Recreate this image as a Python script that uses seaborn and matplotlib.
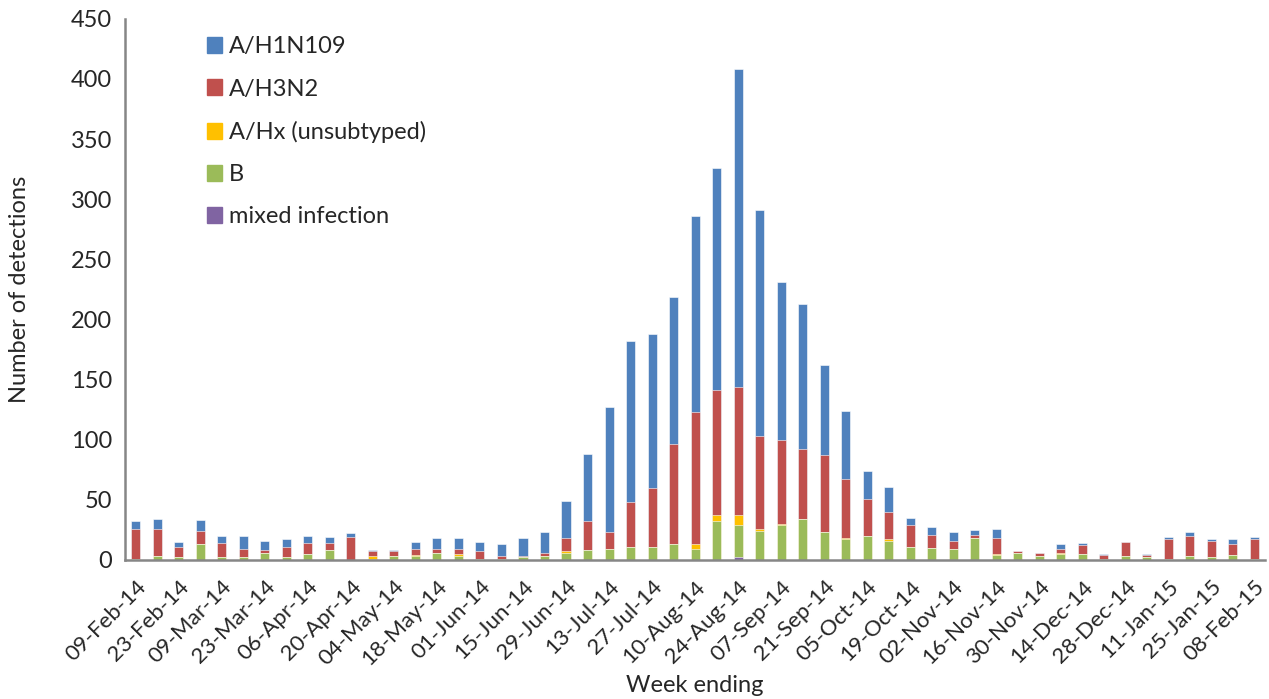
import pandas as pd
import numpy as np
import matplotlib
matplotlib.use("Agg")
import matplotlib.pyplot as plt
import seaborn as sns

# Semanas (final da semana)
weeks = pd.date_range("2014-02-09", "2015-02-08", freq="7D").strftime("%d-%b-%y").tolist()

# Contagens por tipo
h1n1 = [6, 8, 4, 9, 6, 11, 8, 6, 6, 5, 3, 1, 1, 6, 9, 9, 8, 10, 15, 17,
        31, 56, 104, 134, 128, 123, 163, 185, 264, 188, 131, 121, 75, 57, 23, 21,
        6, 6, 7, 4, 8, 0, 0, 4, 2, 1, 0, 1, 2, 3, 1, 4, 2]
h3n2 = [25, 23, 9, 11, 12, 7, 2, 9, 9, 6, 19, 4, 4, 5, 3, 4, 6, 2, 1, 3,
        11, 24, 14, 37, 49, 83, 110, 104, 107, 77, 70, 58, 64, 49, 31, 23,
        18, 11, 7, 3, 13, 1, 3, 3, 7, 3, 12, 2, 16, 17, 14, 9, 16]
hx = [0, 0, 0, 0, 0, 0, 0, 0, 0, 0, 0, 2, 0, 1, 0, 2, 0, 0, 0, 0,
      1, 0, 0, 0, 0, 0, 4, 5, 8, 2, 1, 0, 0, 1, 0, 1,
      0, 0, 0, 0, 1, 0, 0, 1, 0, 0, 0, 0, 0, 0, 0, 0, 0]
flu_b = [1, 3, 2, 13, 2, 2, 6, 2, 5, 8, 0, 1, 3, 3, 6, 3, 1, 1, 2, 3,
         6, 8, 9, 11, 11, 13, 9, 32, 27, 24, 29, 34, 23, 17, 20, 16,
         11, 10, 9, 18, 4, 6, 3, 5, 5, 1, 3, 2, 1, 3, 2, 4, 1]
mixed = [0] * 28 + [2] + [0] * 24

series_names = ["A/H1N109", "A/H3N2", "A/Hx (unsubtyped)", "B", "mixed infection"]
colors = ["#4F81BD", "#C0504D", "#FFC000", "#9BBB59", "#8064A2"]

df = pd.DataFrame({"Week": weeks, "mixed": mixed, "B": flu_b, "Hx": hx,
                   "H3N2": h3n2, "H1N1": h1n1})
# Somas acumuladas de baixo para cima
df["c_mixed"] = df["mixed"]
df["c_B"] = df["c_mixed"] + df["B"]
df["c_Hx"] = df["c_B"] + df["Hx"]
df["c_H3N2"] = df["c_Hx"] + df["H3N2"]
df["c_H1N1"] = df["c_H3N2"] + df["H1N1"]

sns.set_style("white")
plt.rcParams["font.family"] = ["Lato", "DejaVu Sans"]

fig = plt.figure(figsize=(12.69, 6.99), dpi=100)
ax = fig.add_axes([0.0985, 0.199, 0.8985, 0.774])

layers = ["c_H1N1", "c_H3N2", "c_Hx", "c_B", "c_mixed"]
for col, color in zip(layers, colors):
    sns.barplot(data=df, x="Week", y=col, order=weeks, color=color, width=0.42,
                edgecolor="white", linewidth=0.4, saturation=1, ax=ax)

ax.set_xlim(-0.5, len(weeks) - 0.5)
ax.set_ylim(0, 450)
ax.set_yticks(np.arange(0, 451, 50))

ax.set_xticks(range(0, len(weeks), 2))
ax.set_xticklabels(weeks[::2], rotation=45, ha="right", rotation_mode="anchor")
ax.set_xticks(np.arange(-0.5, len(weeks), 1), minor=True)
ax.tick_params(axis="x", which="major", length=0, pad=12, labelsize=16)
ax.tick_params(axis="x", which="minor", length=6, width=1.5, color="#868686", direction="out")
ax.tick_params(axis="y", length=6, width=1.5, color="#868686", direction="out", labelsize=17)

for s in ["top", "right"]:
    ax.spines[s].set_visible(False)
for s in ["left", "bottom"]:
    ax.spines[s].set_color("#868686")
    ax.spines[s].set_linewidth(1.8)

ax.set_xlabel("Week ending", fontsize=17, labelpad=4)
ax.set_ylabel("Number of detections", fontsize=17, labelpad=29)

handles = [plt.Rectangle((0, 0), 1, 1, color=c) for c in colors]
ax.legend(handles, series_names, loc="upper left", bbox_to_anchor=(0.053, 1.007),
          frameon=False, fontsize=17, labelspacing=0.9, handlelength=0.65,
          handleheight=0.65, handletextpad=0.3)

fig.savefig("out.png", dpi=100)
